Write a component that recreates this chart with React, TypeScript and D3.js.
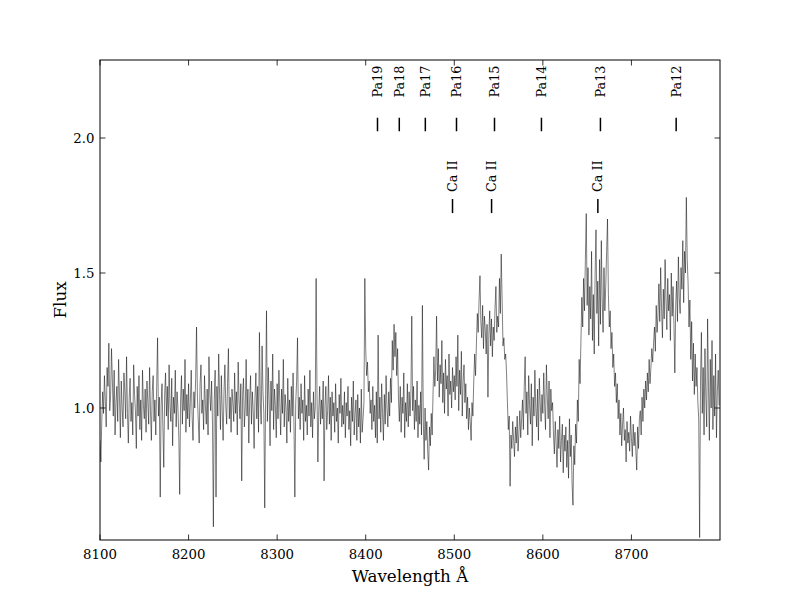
import React from "react";
import * as d3 from "d3";

// Spectrum sampled on a regular 1 Å wavelength grid, 8100–8799 Å (rows of 25 Å)
const wavelengthStart = 8100;
const wavelengthStep = 1.0;
const flux: number[] = [
  0.88, 0.80, 0.95, 1.06, 0.98, 1.12, 1.03, 0.93, 1.15, 1.08, 1.24, 0.99, 1.05, 1.22, 1.10, 0.97, 1.14, 0.90, 1.02, 1.08, 0.95, 1.18, 1.04, 0.89, 1.10,
  1.00, 0.93, 1.13, 1.06, 0.96, 1.19, 0.98, 0.87, 1.04, 1.11, 0.95, 1.02, 0.90, 1.16, 1.05, 0.99, 0.85, 1.08, 0.97, 1.12, 0.92, 1.03, 0.88, 1.14, 1.01,
  0.96, 1.07, 0.91, 1.10, 1.02, 0.94, 1.15, 0.99, 0.88, 1.06, 1.12, 0.95, 1.03, 0.90, 1.08, 1.26, 0.97, 1.04, 0.67, 1.01, 1.09, 0.93, 0.78, 1.05, 1.13,
  0.97, 1.08, 0.92, 1.16, 1.01, 0.95, 1.11, 0.86, 1.04, 0.98, 1.14, 0.93, 1.06, 1.00, 0.89, 0.68, 1.03, 1.12, 0.94, 1.07, 0.99, 1.18, 0.91, 1.05, 0.96,
  1.09, 0.93, 1.02, 1.14, 0.97, 0.88, 1.06, 1.00, 1.11, 1.30, 1.04, 0.95, 0.87, 1.09, 1.16, 0.98, 1.03, 0.92, 1.12, 1.01, 0.94, 1.07, 0.90, 1.19, 1.05,
  0.99, 1.10, 0.94, 0.56, 1.03, 1.14, 0.67, 1.08, 0.97, 1.20, 1.05, 0.92, 1.12, 0.99, 0.88, 1.06, 1.16, 1.01, 0.94, 1.09, 1.22, 0.96, 1.04, 0.91, 1.07,
  1.02, 0.95, 1.13, 0.98, 1.06, 0.90, 1.17, 1.03, 0.96, 1.09, 0.73, 1.05, 1.11, 0.93, 1.00, 1.18, 0.97, 1.07, 0.87, 1.03, 1.12, 0.94, 1.06, 0.99, 0.85,
  1.04, 1.13, 0.96, 1.08, 0.91, 1.28, 1.02, 0.94, 1.23, 1.06, 0.98, 0.63, 1.05, 1.36, 0.95, 1.15, 1.03, 0.86, 1.10, 0.99, 1.20, 0.92, 1.07, 1.01, 0.89,
  1.09, 0.96, 1.14, 1.02, 0.90, 1.07, 0.98, 1.18, 0.93, 1.05, 1.00, 0.87, 1.11, 0.95, 1.03, 0.91, 1.08, 0.97, 1.13, 0.94, 0.67, 1.02, 1.10, 1.26, 0.96,
  1.04, 0.92, 1.09, 0.98, 1.03, 0.88, 1.12, 0.95, 1.01, 0.90, 1.07, 0.97, 1.14, 0.93, 1.02, 0.89, 1.06, 0.96, 1.00, 1.48, 1.05, 0.80, 0.99, 1.08, 0.94,
  1.03, 0.96, 1.10, 0.73, 1.01, 1.08, 0.92, 0.99, 1.12, 0.94, 1.04, 0.88, 1.06, 0.97, 1.02, 0.91, 1.09, 0.95, 1.00, 0.87, 1.05, 0.98, 1.11, 0.93, 1.01,
  0.94, 1.06, 0.89, 1.02, 0.97, 1.08, 0.92, 0.99, 0.86, 1.04, 0.95, 1.10, 0.90, 0.98, 1.03, 0.88, 1.05, 0.93, 1.00, 0.87, 1.07, 0.91, 0.96, 1.02, 1.48,
  1.22, 1.12, 1.17, 1.06, 1.10, 0.98, 1.03, 0.92, 1.08, 0.95, 1.01, 0.89, 1.06, 0.87, 1.27, 0.96, 1.04, 0.91, 1.09, 0.98, 0.88, 1.05, 0.94, 1.12, 1.00,
  0.93, 1.06, 0.97, 1.11, 1.02, 1.25, 1.14, 1.31, 1.19, 1.28, 1.12, 1.22, 1.03, 0.95, 1.08, 0.91, 1.04, 0.98, 1.13, 0.89, 1.02, 0.95, 1.09, 0.93, 1.06,
  0.97, 1.05, 1.34, 0.99, 1.08, 0.92, 1.03, 0.95, 1.10, 0.89, 1.01, 0.94, 1.06, 0.90, 1.38, 0.96, 0.81, 1.00, 0.88, 0.95, 0.84, 0.77, 0.93, 0.86, 0.98,
  0.90, 1.05, 1.19, 1.08, 1.14, 1.34, 1.10, 1.22, 1.04, 1.16, 1.09, 1.25, 1.02, 1.13, 0.98, 1.18, 1.07, 1.12, 0.97, 1.20, 1.05, 1.10, 1.00, 1.15, 1.06,
  1.12, 1.03, 1.19, 1.08, 1.27, 0.99, 1.14, 1.05, 1.21, 0.97, 1.10, 1.16, 1.02, 1.09, 0.96, 1.04, 0.92, 1.00, 0.95, 0.88, 1.02, 0.97, 1.10, 1.20, 1.12,
  1.24, 1.35, 1.28, 1.40, 1.49, 1.32, 1.26, 1.38, 1.22, 1.34, 1.29, 1.20, 1.31, 1.04, 1.27, 1.36, 1.23, 1.33, 1.19, 1.30, 1.25, 1.37, 1.45, 1.28, 1.34,
  1.30, 1.48, 1.35, 1.57, 1.40, 1.23, 1.26, 1.18, 1.20, 1.13, 1.02, 0.92, 0.97, 0.71, 0.90, 0.85, 0.95, 0.88, 0.82, 0.93, 0.87, 0.97, 0.84, 0.91, 0.99,
  0.89, 0.96, 1.03, 0.92, 1.08, 1.19, 0.98, 1.06, 0.90, 1.12, 1.01, 0.94, 1.09, 0.86, 1.04, 0.97, 1.14, 1.00, 0.93, 1.07, 0.88, 1.11, 1.02, 0.95, 1.05,
  0.98, 1.13, 1.01, 0.92, 1.16, 1.04, 0.96, 1.10, 0.89, 1.07, 0.99, 1.02, 0.90, 0.83, 0.95, 0.87, 0.78, 0.92, 0.85, 0.97, 0.80, 0.88, 0.94, 0.76, 0.90,
  0.84, 0.93, 0.78, 0.88, 0.74, 0.96, 0.82, 0.90, 0.72, 0.64, 0.86, 0.79, 0.94, 0.87, 1.03, 0.95, 1.18, 1.09, 1.25, 1.41, 1.30, 1.48, 1.36, 1.55, 1.72,
  1.38, 1.52, 1.27, 1.45, 1.33, 1.58, 1.25, 1.42, 1.20, 1.50, 1.66, 1.35, 1.47, 1.23, 1.55, 1.31, 1.62, 1.40, 1.28, 1.52, 1.36, 1.45, 1.58, 1.70, 1.42,
  1.30, 1.36, 1.22, 1.28, 1.15, 1.20, 1.08, 1.13, 1.02, 1.09, 0.96, 1.03, 0.90, 0.98, 0.86, 0.94, 1.00, 0.88, 0.92, 0.80, 0.95, 0.87, 0.91, 0.84, 0.97,
  0.89, 0.82, 0.94, 0.86, 0.91, 0.84, 0.77, 0.93, 0.85, 0.96, 0.99, 0.90, 1.04, 0.95, 1.07, 1.00, 1.10, 1.03, 1.13, 1.06, 1.18, 1.09, 1.15, 1.22, 1.17,
  1.24, 1.30, 1.21, 1.38, 1.28, 1.35, 1.46, 1.32, 1.52, 1.37, 1.26, 1.44, 1.33, 1.55, 1.40, 1.29, 1.48, 1.36, 1.42, 1.25, 1.50, 1.34, 1.45, 1.31, 1.13,
  1.38, 1.47, 1.32, 1.56, 1.41, 1.35, 1.52, 1.44, 1.62, 1.39, 1.58, 1.50, 1.78, 1.55, 1.46, 1.30, 1.40, 1.18, 1.32, 1.10, 1.24, 1.05, 1.20, 1.08, 1.15,
  1.02, 0.96, 0.52, 1.10, 1.28, 0.98, 1.15, 0.90, 1.22, 1.04, 0.93, 1.33, 1.08, 0.88, 1.18, 1.00, 1.25, 0.92, 1.12, 0.97, 1.20, 0.89, 1.06, 1.14, 1.01,
];

const paschenNames = ["Pa19", "Pa18", "Pa17", "Pa16", "Pa15", "Pa14", "Pa13", "Pa12"];
const paschenWave = [8413.3, 8437.9, 8467.3, 8502.5, 8545.4, 8598.4, 8665.0, 8750.5];
const caNames = ["Ca II", "Ca II", "Ca II"];
const caWave = [8498.0, 8542.1, 8662.1];

const xTicks = [8100, 8200, 8300, 8400, 8500, 8600, 8700];
const yTicks = [1.0, 1.5, 2.0];
const xDomain: [number, number] = [8100, 8800];
const yDomain: [number, number] = [0.5111, 2.2889];

const W = 800;
const H = 600;
const M = { left: 100, right: 720, top: 60, bottom: 540 };
const FONT = "'DejaVu Serif', serif";

export default function App() {
  const x = d3.scaleLinear().domain(xDomain).range([M.left, M.right]);
  const y = d3.scaleLinear().domain(yDomain).range([M.bottom, M.top]);
  const pts = flux.map((f, i) => [wavelengthStart + i * wavelengthStep, f] as [number, number]);
  const line = d3
    .line<[number, number]>()
    .x((d) => x(d[0]))
    .y((d) => y(d[1]));
  const tl = 5.5;

  return (
    <svg
      width={W}
      height={H}
      style={{ position: "absolute", left: 0, top: 0, background: "#fff" }}
      fontFamily={FONT}
    >
      <rect x={0} y={0} width={W} height={H} fill="#fff" />
      <defs>
        <clipPath id="plotclip">
          <rect x={M.left} y={M.top} width={M.right - M.left} height={M.bottom - M.top} />
        </clipPath>
      </defs>
      <path
        d={line(pts) || ""}
        fill="none"
        stroke="#000"
        strokeWidth={0.5}
        clipPath="url(#plotclip)"
      />
      {paschenWave.map((w, i) => (
        <g key={"pa" + i}>
          <line x1={x(w)} x2={x(w)} y1={y(2.025)} y2={y(2.075)} stroke="#000" strokeWidth={1.5} />
          <text
            transform={`translate(${x(w)},${y(2.15)}) rotate(-90)`}
            dy="0.36em"
            fontSize={12.8}
            textAnchor="start"
          >
            {paschenNames[i]}
          </text>
        </g>
      ))}
      {caWave.map((w, i) => (
        <g key={"ca" + i}>
          <line x1={x(w)} x2={x(w)} y1={y(1.722)} y2={y(1.774)} stroke="#000" strokeWidth={1.5} />
          <text
            transform={`translate(${x(w)},${y(1.8)}) rotate(-90)`}
            dy="0.36em"
            fontSize={12.8}
            textAnchor="start"
          >
            {caNames[i]}
          </text>
        </g>
      ))}
      <rect
        x={M.left}
        y={M.top}
        width={M.right - M.left}
        height={M.bottom - M.top}
        fill="none"
        stroke="#000"
        strokeWidth={1}
      />
      {xTicks.map((t) => (
        <g key={"xt" + t}>
          <line x1={x(t)} x2={x(t)} y1={M.bottom} y2={M.bottom - tl} stroke="#000" strokeWidth={0.8} />
          <line x1={x(t)} x2={x(t)} y1={M.top} y2={M.top + tl} stroke="#000" strokeWidth={0.8} />
          <text x={x(t)} y={M.bottom + 19} fontSize={13.3} textAnchor="middle">
            {t}
          </text>
        </g>
      ))}
      {yTicks.map((t) => (
        <g key={"yt" + t}>
          <line x1={M.left} x2={M.left + tl} y1={y(t)} y2={y(t)} stroke="#000" strokeWidth={0.8} />
          <line x1={M.right} x2={M.right - tl} y1={y(t)} y2={y(t)} stroke="#000" strokeWidth={0.8} />
          <text x={M.left - 5.5} y={y(t)} dy="0.36em" fontSize={13.3} textAnchor="end">
            {t.toFixed(1)}
          </text>
        </g>
      ))}
      <text x={(M.left + M.right) / 2} y={582} fontSize={16.7} textAnchor="middle">
        Wavelength Å
      </text>
      <text
        transform={`translate(66,${(M.top + M.bottom) / 2}) rotate(-90)`}
        fontSize={16.7}
        textAnchor="middle"
      >
        Flux
      </text>
    </svg>
  );
}
